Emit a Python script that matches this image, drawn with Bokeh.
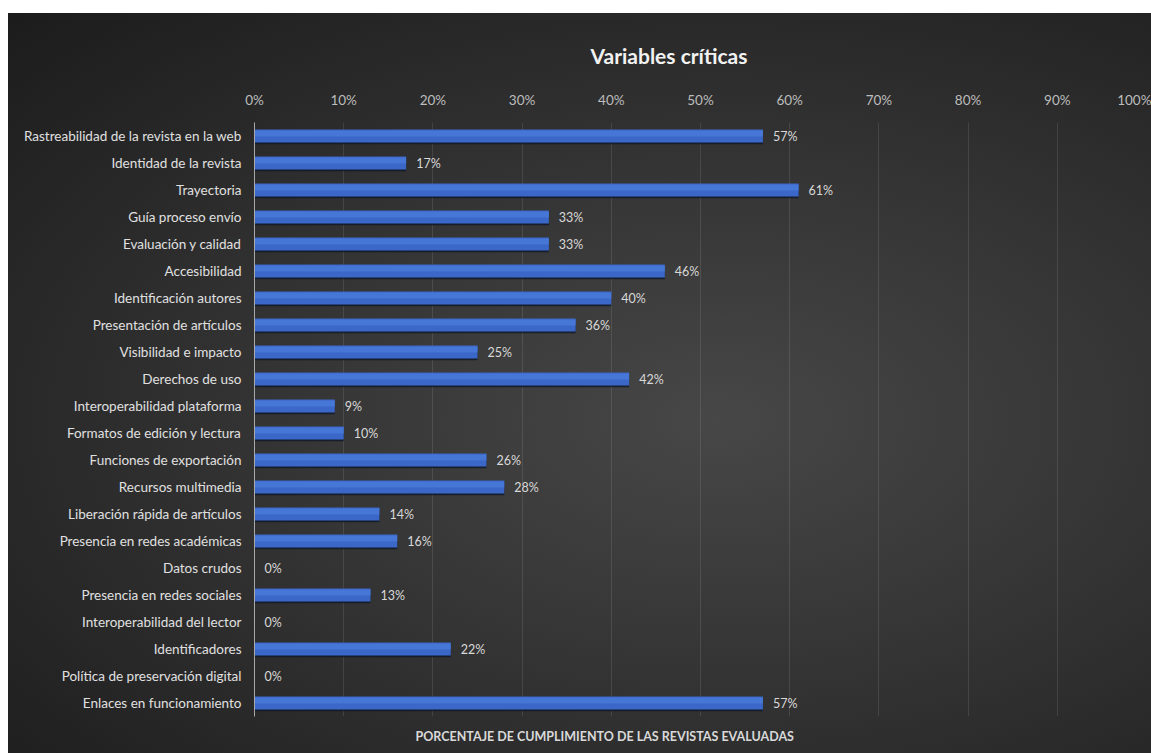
from bokeh.plotting import figure
from bokeh.models import ColumnDataSource, FixedTicker, PrintfTickFormatter, Title, Range1d, FactorRange
from bokeh.transform import dodge
from bokeh.embed import file_html
from bokeh.resources import INLINE
from bokeh.core.properties import value

categories = [
    "Rastreabilidad de la revista en la web",
    "Identidad de la revista",
    "Trayectoria",
    "Guía proceso envío",
    "Evaluación y calidad",
    "Accesibilidad",
    "Identificación autores",
    "Presentación de artículos",
    "Visibilidad e impacto",
    "Derechos de uso",
    "Interoperabilidad plataforma",
    "Formatos de edición y lectura",
    "Funciones de exportación",
    "Recursos multimedia",
    "Liberación rápida de artículos",
    "Presencia en redes académicas",
    "Datos crudos",
    "Presencia en redes sociales",
    "Interoperabilidad del lector",
    "Identificadores",
    "Política de preservación digital",
    "Enlaces en funcionamiento",
]
values = [57, 17, 61, 33, 33, 46, 40, 36, 25, 42, 9, 10, 26, 28, 14, 16, 0, 13, 0, 22, 0, 57]
tick_values = [0, 10, 20, 30, 40, 50, 60, 70, 80, 90, 100]
chart_title = "Variables críticas"
x_title = "PORCENTAJE DE CUMPLIMIENTO  DE LAS REVISTAS EVALUADAS"

FONT = "Lato"

src = ColumnDataSource(dict(cat=categories, val=values, lab=[f"{v}%" for v in values]))

p = figure(
    width=1143, height=740,
    y_range=FactorRange(factors=categories[::-1], range_padding=0),
    x_range=Range1d(0, 100),
    x_axis_location="above",
    output_backend="svg", toolbar_location=None,
    min_border_left=246, min_border_right=5, min_border_top=109, min_border_bottom=36,
)
p.styles = {
    "background": "radial-gradient(ellipse at 62% 55%, #474747 0%, #363636 40%, #222222 85%, #1c1c1c 100%)",
    "margin-top": "13px",
    "margin-left": "8px",
}
p.border_fill_color = None
p.background_fill_color = None
p.outline_line_color = None

# bars: shadow, main, highlight
p.hbar(y=dodge("cat", -0.07, range=p.y_range), right="val", height=0.48, left=0,
       fill_color="#111a2c", fill_alpha=0.85, line_color=None, source=src)
p.hbar(y="cat", right="val", left=0, height=0.48,
       fill_color="#3a67c8", line_color=None, source=src)
p.hbar(y=dodge("cat", 0.09, range=p.y_range), right="val", left=0, height=0.22,
       fill_color="#4676d6", line_color=None, source=src)

p.text(x="val", y="cat", text="lab", x_offset=10, text_baseline="middle",
       text_font=value(FONT), text_font_size="12.5px", text_color="#d9d9d9", source=src)

xa = p.xaxis[0]
xa.ticker = FixedTicker(ticks=tick_values)
xa.formatter = PrintfTickFormatter(format="%d%%")
xa.axis_line_color = None
xa.major_tick_line_color = None
xa.minor_tick_line_color = None
xa.major_label_text_color = "#bdbdbd"
xa.major_label_text_font = FONT
xa.major_label_text_font_size = "13.5px"
xa.major_label_standoff = 9

ya = p.yaxis[0]
ya.axis_line_color = "#a8a8a8"
ya.axis_line_width = 1
ya.major_tick_line_color = None
ya.minor_tick_line_color = None
ya.major_label_text_color = "#e0e0e0"
ya.major_label_text_font = FONT
ya.major_label_text_font_size = "13.5px"
ya.major_label_standoff = 7

p.xgrid.grid_line_color = "#ffffff"
p.xgrid.grid_line_alpha = 0.1
p.ygrid.grid_line_color = None

p.title.text = chart_title
p.title.align = "left"
p.title.offset = 336
p.title.standoff = 42
p.title.text_font = FONT
p.title.text_font_size = "21px"
p.title.text_font_style = "bold"
p.title.text_color = "#f2f2f2"

p.add_layout(Title(text=x_title, align="left", offset=161, standoff=20, text_font=FONT,
                   text_font_size="12.5px", text_font_style="bold",
                   text_color="#d9d9d9"), "below")

open("out.html", "w").write(file_html(p, INLINE))
